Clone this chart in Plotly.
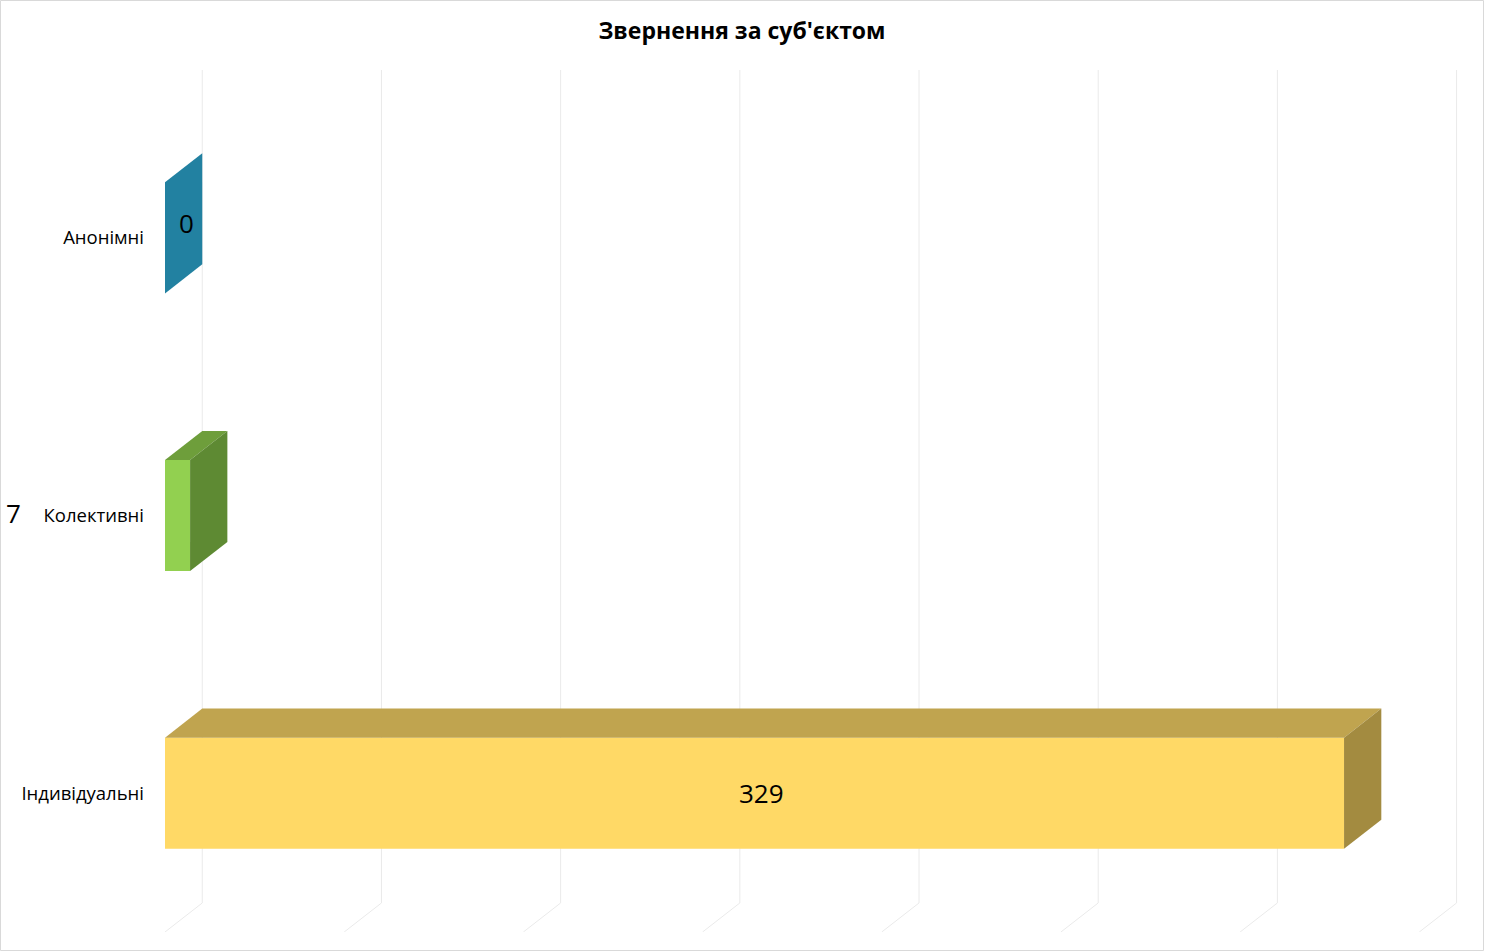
import plotly.graph_objects as go

# ---- data ----
categories = ["Індивідуальні", "Колективні", "Анонімні"]
values = [329, 7, 0]
front_colors = ["#FFD966", "#92D050", "#2281A1"]
top_colors = ["#C0A44F", "#6E9E3B", "#2281A1"]
side_colors = ["#A38B40", "#5E8A33", "#2281A1"]
grid_ticks = [0, 50, 100, 150, 200, 250, 300, 350]
title_text = "Звернення за суб'єктом"

# ---- 3D geometry (depth in axis units) ----
DX = 10.4      # depth offset along x (data units)
DY = 0.1045    # depth offset along y (category units)
HALF = 0.2     # half bar thickness
Y0, Y1 = -0.5, 2.5
FONT = "'Open Sans', 'Noto Sans', sans-serif"

W, H = 1485, 952
ML, MR, MT, MB = 165, W - 1458, 70, 20
PW = W - ML - MR
xmax = max(grid_ticks) + DX + 0.4

fig = go.Figure()

# gridlines on back wall + floor diagonals (below everything)
shapes = []
for t in grid_ticks:
    shapes.append(dict(type="path", xref="x", yref="y", layer="below",
                       path=f"M {t},{Y0} L {t + DX},{Y0 + DY} L {t + DX},{Y1 + DY}",
                       line=dict(color="#EAEAEA", width=1)))

ypos = list(range(len(categories)))

# front faces
fig.add_trace(go.Bar(
    x=values, y=ypos, base=0, orientation="h", width=2 * HALF,
    marker=dict(color=front_colors, line=dict(width=0)),
    hoverinfo="skip", showlegend=False))

# top and side faces
for v, yc, tc, sc in zip(values, ypos, top_colors, side_colors):
    yt = yc + HALF
    yb = yc - HALF
    fig.add_trace(go.Scatter(
        x=[0, v, v + DX, DX, 0], y=[yt, yt, yt + DY, yt + DY, yt],
        fill="toself", fillcolor=tc, mode="lines", line=dict(width=0, color=tc),
        hoverinfo="skip", showlegend=False))
    fig.add_trace(go.Scatter(
        x=[v, v + DX, v + DX, v, v], y=[yb, yb + DY, yt + DY, yt, yb],
        fill="toself", fillcolor=sc, mode="lines", line=dict(width=0, color=sc),
        hoverinfo="skip", showlegend=False))

# data labels
label_font = dict(family=FONT, size=26, color="#000000")
fig.add_annotation(x=values[0] / 2 + 2, y=ypos[0], text=str(values[0]),
                   showarrow=False, font=label_font, xanchor="center", yanchor="middle")
fig.add_annotation(x=values[2] + DX / 2 + 0.8, y=ypos[2] + DY / 2, text=str(values[2]),
                   showarrow=False, font=label_font, xanchor="center", yanchor="middle")
fig.add_annotation(x=(13 - ML) / PW, xref="paper", y=ypos[1] + 0.01, yref="y",
                   text=str(values[1]),
                   showarrow=False, font=label_font, xanchor="center", yanchor="middle")

# outer chart border
shapes.append(dict(type="rect", xref="paper", yref="paper", layer="below",
                   x0=-(ML - 0.5) / PW, x1=1 + (MR - 1.5) / PW,
                   y0=-(MB - 1.5) / (H - MT - MB), y1=1 + (MT - 0.5) / (H - MT - MB),
                   line=dict(color="#D9D9D9", width=1)))

fig.update_layout(
    width=W, height=H,
    margin=dict(l=ML, r=MR, t=MT, b=MB),
    paper_bgcolor="white", plot_bgcolor="white",
    title=dict(text="<b>" + title_text + "</b>", x=742 / W, xref="container", xanchor="center",
               y=1 - 31 / H, yref="container", yanchor="middle",
               font=dict(family=FONT, size=23, color="#000000")),
    xaxis=dict(range=[0, xmax], showgrid=False, zeroline=False, showticklabels=False,
               showline=False, ticks="", fixedrange=True),
    yaxis=dict(range=[Y0, Y1 + DY], showgrid=False, zeroline=False, showline=False,
               tickvals=ypos, ticktext=categories, ticks="", ticklabelstandoff=20,
               tickfont=dict(family=FONT, size=18.5, color="#000000"), fixedrange=True),
    shapes=shapes,
)

fig.write_html("out.html", config={"displayModeBar": False},
               post_script="document.body.style.margin='0';")
